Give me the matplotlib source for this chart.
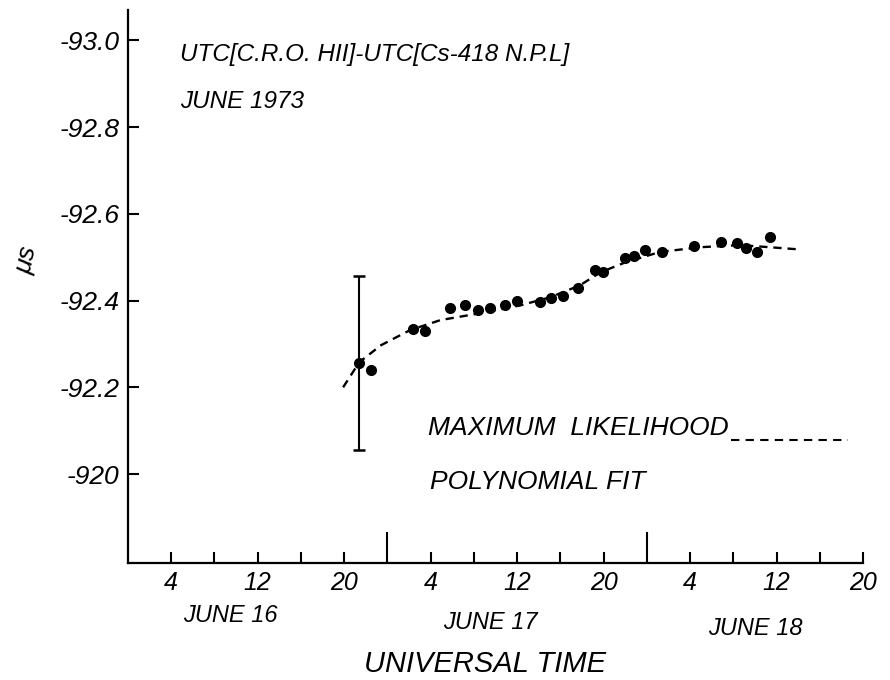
import numpy as np
import matplotlib
matplotlib.use('Agg')
import matplotlib.pyplot as plt
from matplotlib.lines import Line2D

plt.rcParams['font.family'] = ['Liberation Sans', 'DejaVu Sans']
plt.rcParams['font.style'] = 'italic'

# Data (hours since 0h UT June 16, microseconds)
hours = [21.4, 22.5, 26.4, 27.5, 29.8, 31.2, 32.4, 33.5, 34.9, 36.0, 38.1, 39.1, 40.2,
         41.6, 43.2, 43.9, 46.0, 46.8, 47.8, 49.4, 52.4, 54.9, 56.3, 57.2, 58.2, 59.4]
offset_us = [-92.256, -92.240, -92.334, -92.330, -92.382, -92.389, -92.378, -92.382,
             -92.389, -92.399, -92.396, -92.406, -92.410, -92.429, -92.470, -92.465,
             -92.498, -92.502, -92.516, -92.512, -92.525, -92.535, -92.532, -92.521,
             -92.512, -92.546]

# maximum likelihood polynomial fit (dashed)
fit_hours = [19.9, 21.4, 23.4, 26.1, 28.9, 32.6, 36.3, 39.1, 41.8, 43.7, 46.0, 49.2,
             52.9, 56.6, 59.4, 62.1]
fit_us = [-92.200, -92.258, -92.297, -92.332, -92.355, -92.371, -92.389, -92.408,
          -92.435, -92.465, -92.488, -92.512, -92.523, -92.528, -92.523, -92.518]

# error bar on first point
err_hour = 21.4
err_value = -92.256
err_sigma = 0.2

ytick_vals = [-93.0, -92.8, -92.6, -92.4, -92.2, -92.0]
ytick_labels = ['-93.0', '-92.8', '-92.6', '-92.4', '-92.2', '-920']

xtick_vals = [4, 8, 12, 16, 20, 28, 32, 36, 40, 44, 52, 56, 60, 64, 68]
xtick_labels = ['4', '', '12', '', '20', '4', '', '12', '', '20', '4', '', '12', '', '20']
day_ticks = [24, 48]
day_labels = ['JUNE 16', 'JUNE 17', 'JUNE 18']
day_centres = [9.5, 33.5, 58.0]

fig = plt.figure(figsize=(8.9, 6.8), dpi=100, facecolor='white')
ax = fig.add_axes([128 / 890, 1 - 563 / 680, (863 - 128) / 890, (563 - 10) / 680])

ax.plot(fit_hours, fit_us, color='black', lw=1.7, ls=(0, (3.5, 2.5)))
ax.plot(hours, offset_us, 'o', color='black', ms=7)
ax.errorbar([err_hour], [err_value], yerr=[err_sigma], fmt='none', ecolor='black',
            elinewidth=1.5, capsize=4, capthick=1.8)

ax.set_xlim(0, 68)
ax.set_ylim(-91.795, -93.07)

for s in ['top', 'right']:
    ax.spines[s].set_visible(False)
for s in ['left', 'bottom']:
    ax.spines[s].set_linewidth(1.6)

ax.set_yticks(ytick_vals, labels=ytick_labels)
ax.tick_params(axis='y', direction='in', length=8, width=1.5, pad=6, labelsize=19)

ax.set_xticks(xtick_vals, labels=xtick_labels)
ax.set_xticks(day_ticks, minor=True)
ax.tick_params(axis='x', which='major', direction='in', length=8, width=1.5, pad=6,
               labelsize=18)
ax.tick_params(axis='x', which='minor', direction='in', length=22, width=1.5)

trans = ax.get_xaxis_transform()
for lab, xc, yy in zip(day_labels, day_centres, [-0.095, -0.108, -0.118]):
    ax.text(xc, yy, lab, transform=trans, ha='center', va='center', fontsize=17)
ax.text(33, -0.183, 'UNIVERSAL TIME', transform=trans, ha='center', va='center',
        fontsize=21)

fig.text(27 / 890, 1 - 260 / 680, 'μs', rotation=78, ha='center', va='center',
         fontsize=19)

fig.text(180 / 890, 1 - 54 / 680, 'UTC[C.R.O. HII]-UTC[Cs-418 N.P.L]', ha='left',
         va='center', fontsize=17.5)
fig.text(180 / 890, 1 - 102 / 680, 'JUNE 1973', ha='left', va='center', fontsize=17.5)

leg = fig.text(428 / 890, 1 - 428 / 680, 'MAXIMUM  LIKELIHOOD', ha='left',
               va='center', fontsize=19)
fig.text(430 / 890, 1 - 482 / 680, 'POLYNOMIAL FIT', ha='left', va='center',
         fontsize=19)

# legend key for the dashed fit line, starting just after the text
fig.canvas.draw()
x_end = leg.get_window_extent().x1 / fig.bbox.width
fig.add_artist(Line2D([x_end + 0.003, 848 / 890], [1 - 440 / 680, 1 - 440 / 680],
                      color='black', lw=1.5, ls=(0, (4, 3))))

fig.savefig('out.png', dpi=100, facecolor='white')
